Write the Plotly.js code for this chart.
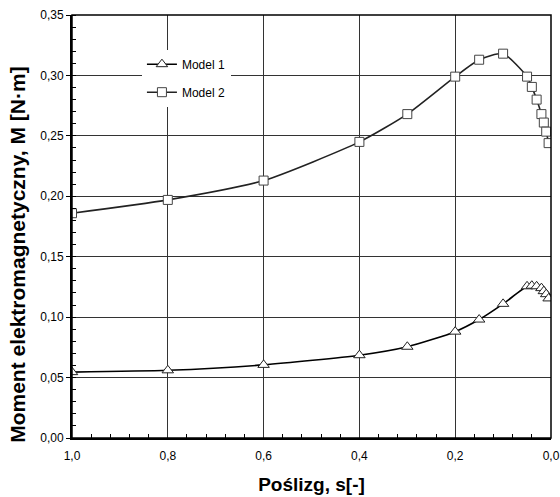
<!DOCTYPE html>
<html>
<head>
<meta charset="utf-8">
<script src="https://cdn.plot.ly/plotly-3.0.1.min.js"></script>
<style>html,body{margin:0;padding:0;background:#fff;}#chart{width:560px;height:497px;}</style>
</head>
<body>
<div id="chart"></div>
<script>
var slip = [1.0, 0.8, 0.6, 0.4, 0.3, 0.2, 0.15, 0.1, 0.05, 0.04, 0.03, 0.02, 0.015, 0.01, 0.005];
var model1 = [0.0545, 0.056, 0.0605, 0.0685, 0.0755, 0.088, 0.098, 0.111, 0.1255, 0.126, 0.1255, 0.124, 0.1215, 0.119, 0.1155];
var model2 = [0.186, 0.197, 0.213, 0.245, 0.268, 0.299, 0.313, 0.318, 0.299, 0.2905, 0.28, 0.268, 0.261, 0.2535, 0.244];
var names = ['Model 1', 'Model 2'];
var xTitle = 'Poślizg, s[-]';
var yTitle = 'Moment elektromagnetyczny, M [N·m]';

var traces = [
  {x: slip, y: model1, name: names[0], legendgroup: 'a', mode: 'lines+markers', type: 'scatter',
   line: {color: '#000', width: 1.6, shape: 'spline', smoothing: 0.6},
   marker: {symbol: 'triangle-up', size: 10, color: '#fff', line: {color: '#222', width: 1}}},
  {x: slip, y: model2, name: names[1], legendgroup: 'b', mode: 'lines+markers', type: 'scatter',
   line: {color: '#222', width: 1.6, shape: 'spline', smoothing: 0.6},
   marker: {symbol: 'square', size: 9, color: '#fff', line: {color: '#444', width: 1}}}
];

var titleFont = {family: 'Arial, Liberation Sans, sans-serif', color: '#000', weight: 'bold'};

var layout = {
  width: 560, height: 497,
  margin: {l: 72, r: 9, t: 15, b: 59},
  paper_bgcolor: '#fff', plot_bgcolor: '#fff',
  separators: ',.',
  font: {family: 'Arial, Liberation Sans, sans-serif', size: 12, color: '#000'},
  showlegend: true,
  legend: {x: 0.146, y: 0.918, xanchor: 'left', yanchor: 'top', bgcolor: '#fff', borderwidth: 0,
           tracegroupgap: 9, font: {size: 12, color: '#000'}},
  xaxis: {
    range: [1.0, 0.0], dtick: 0.2, tick0: 0, tickformat: '.1f',
    showgrid: true, gridcolor: '#333', gridwidth: 1,
    showline: true, linecolor: '#000', linewidth: 2, zeroline: false,
    ticks: '', ticklabelstandoff: 6,
    minor: {ticks: 'inside', dtick: 0.04, tick0: 0, ticklen: 4, tickcolor: '#000', showgrid: false},
    title: {text: xTitle, font: Object.assign({size: 19}, titleFont), standoff: 15}
  },
  yaxis: {
    range: [0, 0.35], dtick: 0.05, tick0: 0, tickformat: '.2f',
    showgrid: true, gridcolor: '#333', gridwidth: 1,
    showline: true, linecolor: '#000', linewidth: 2, zeroline: false,
    ticks: 'outside', ticklen: 4, tickcolor: '#000',
    minor: {ticks: 'inside', dtick: 0.01, tick0: 0, ticklen: 4, tickcolor: '#000', showgrid: false}
  },
  annotations: [
    {text: yTitle, xref: 'paper', yref: 'paper', x: -0.113, y: 0.435, xanchor: 'center', yanchor: 'middle',
     textangle: -90, showarrow: false, font: Object.assign({size: 21}, titleFont)}
  ],
  shapes: [
    {type: 'rect', xref: 'paper', yref: 'paper', x0: 0, x1: 1, y0: 0, y1: 1,
     line: {color: '#000', width: 1.5}, fillcolor: 'rgba(0,0,0,0)', layer: 'above'}
  ]
};

Plotly.newPlot('chart', traces, layout, {displayModeBar: false, staticPlot: true});
</script>
</body>
</html>
